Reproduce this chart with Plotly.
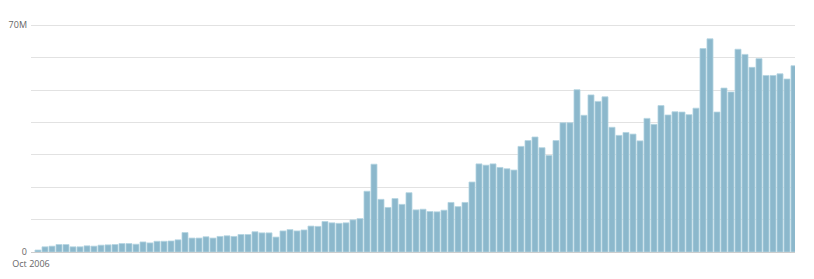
import plotly.graph_objects as go

# Monthly values (millions), starting Oct 2006
start_label = "Oct 2006"
values_m = [
    0.6, 1.6, 1.8, 2.3, 2.3, 1.6, 1.6, 1.9, 1.8, 2.1,
    2.2, 2.3, 2.6, 2.6, 2.4, 3.1, 2.8, 3.3, 3.3, 3.4,
    3.75, 6.0, 4.3, 4.3, 4.7, 4.3, 4.8, 5.0, 4.8, 5.4,
    5.4, 6.25, 5.9, 5.9, 4.6, 6.5, 6.9, 6.5, 6.8, 8.0,
    7.9, 9.4, 9.0, 8.85, 9.0, 9.9, 10.3, 18.75, 27.1, 16.25,
    13.75, 16.5, 14.7, 18.3, 13.0, 13.2, 12.5, 12.4, 12.9, 15.3,
    14.0, 15.3, 21.6, 27.2, 26.8, 27.2, 26.1, 25.7, 25.3, 32.6,
    34.4, 35.5, 32.2, 29.8, 34.4, 39.9, 39.9, 50.1, 42.2, 48.5,
    46.5, 47.9, 38.5, 36.0, 36.9, 36.4, 34.3, 41.25, 39.4, 45.2,
    42.3, 43.3, 43.2, 42.4, 44.4, 62.8, 65.8, 43.2, 50.6, 49.4,
    62.6, 61.0, 57.0, 59.7, 54.5, 54.5, 55.0, 53.4, 57.5,
]
values = [v * 1e6 for v in values_m]
x_idx = list(range(len(values)))

y_tick_vals = [0, 10e6, 20e6, 30e6, 40e6, 50e6, 60e6, 70e6]
y_tick_text = ["0", "", "", "", "", "", "", "70M"]

fig = go.Figure()
fig.add_trace(go.Bar(
    x=x_idx,
    y=values,
    width=0.86,
    marker=dict(color="#8cb8cc", line=dict(color="#b4d4e1", width=0.8)),
    hoverinfo="y",
))

fig.update_layout(
    template="none",
    width=814,
    height=279,
    margin=dict(l=31, r=19, t=23, b=27),
    paper_bgcolor="white",
    plot_bgcolor="white",
    showlegend=False,
    font=dict(family="Open Sans", size=9, color="#666666"),
    bargap=0.14,
)
fig.update_xaxes(
    type="linear",
    automargin=False,
    range=[-1, (795 - 38) / 7],
    tickvals=[-1],
    ticktext=[start_label],
    showgrid=False,
    zeroline=False,
    showline=False,
    ticks="",
    ticklabelstandoff=5,
    tickfont=dict(size=9, color="#666666"),
)
fig.update_yaxes(
    automargin=False,
    range=[0, 70e6 * 1.01],
    tickvals=y_tick_vals,
    ticktext=y_tick_text,
    showgrid=True,
    gridcolor="#e2e2e2",
    gridwidth=1,
    zeroline=True,
    zerolinecolor="#cccccc",
    zerolinewidth=1,
    showline=False,
    ticks="",
    ticklabelstandoff=3,
    tickfont=dict(size=9, color="#666666"),
)

fig.write_html("out.html")
